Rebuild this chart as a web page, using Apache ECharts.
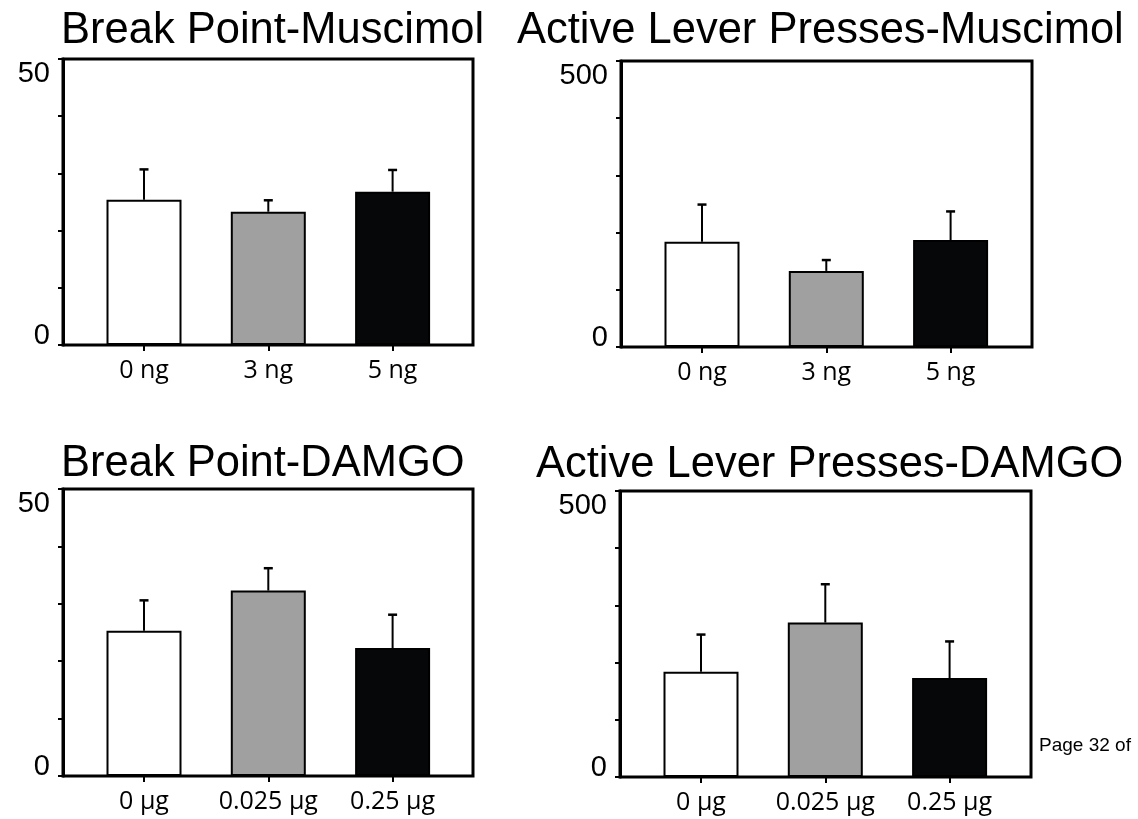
<!DOCTYPE html>
<html>
<head>
<meta charset="utf-8">
<script src="https://cdn.jsdelivr.net/npm/echarts@6/dist/echarts.min.js"></script>
<style>
  html, body { margin: 0; padding: 0; background: #fff; }
  #main { width: 1138px; height: 819px; }
</style>
</head>
<body>
<div id="main"></div>
<script>
// categories
var doseNg = ['0 ng', '3 ng', '5 ng'];
var doseUg = ['0 µg', '0.025 µg', '0.25 µg'];

// means and SEM
var bpMuscimol = [25.4, 23.3, 26.8];
var bpMuscimolSem = [5.3, 2.0, 3.8];
var alpMuscimol = [184, 133, 187];
var alpMuscimolSem = [65, 19, 50];
var bpDamgo = [25.3, 32.3, 22.3];
var bpDamgoSem = [5.3, 3.9, 5.8];
var alpDamgo = [184, 270, 173];
var alpDamgoSem = [65, 67, 64];

var titles = ['Break Point-Muscimol', 'Active Lever Presses-Muscimol', 'Break Point-DAMGO', 'Active Lever Presses-DAMGO'];
var barColors = ['#ffffff', '#a0a0a0', '#060708'];

var panels = [
  { box: [63, 59, 410, 286], title: [61, 9], cats: doseNg, vals: bpMuscimol, sem: bpMuscimolSem, max: 50 },
  { box: [621, 61, 411, 286], title: [517, 9], cats: doseNg, vals: alpMuscimol, sem: alpMuscimolSem, max: 500 },
  { box: [63, 489, 410, 287], title: [61, 442], cats: doseUg, vals: bpDamgo, sem: bpDamgoSem, max: 50 },
  { box: [620, 491, 411, 286], title: [536, 443], cats: doseUg, vals: alpDamgo, sem: alpDamgoSem, max: 500 }
];

var myChart = echarts.init(document.getElementById('main'));

var option = { animation: false, backgroundColor: '#fff', title: [], grid: [], xAxis: [], yAxis: [], series: [] };

function errorBar(params, api) {
  var base = api.coord([api.value(0), api.value(1)]);
  var top = api.coord([api.value(0), api.value(1) + api.value(2)]);
  return {
    type: 'group',
    children: [
      { type: 'line', shape: { x1: base[0], y1: base[1], x2: top[0], y2: top[1] }, style: { stroke: '#000', lineWidth: 2 } },
      { type: 'line', shape: { x1: top[0] - 4.5, y1: top[1], x2: top[0] + 4.5, y2: top[1] }, style: { stroke: '#000', lineWidth: 2.5 } }
    ]
  };
}

panels.forEach(function (p, i) {
  var b = p.box;
  var band = 124.3;
  var inLeft = b[0] + 81 - band / 2;

  option.title.push({
    text: titles[i], left: p.title[0], top: p.title[1], padding: 0,
    textStyle: { fontFamily: 'Liberation Sans', fontWeight: 'normal', fontSize: 43.5, color: '#000' }
  });

  // outer frame with the y axis
  option.grid.push({ left: b[0], top: b[1], width: b[2], height: b[3], show: true, borderColor: '#000', borderWidth: 3, backgroundColor: 'transparent' });
  option.xAxis.push({ gridIndex: i * 2, type: 'value', show: false });
  option.yAxis.push({
    gridIndex: i * 2, type: 'value', min: 0, max: p.max, interval: p.max / 5,
    axisLine: { show: true, lineStyle: { color: '#000', width: 3 } },
    axisTick: { show: true, length: 5, lineStyle: { color: '#000', width: 2 } },
    splitLine: { show: false },
    axisLabel: {
      color: '#000', fontFamily: 'Liberation Sans', fontSize: 29, lineHeight: 18, margin: 13,
      verticalAlignMaxLabel: 'top', verticalAlignMinLabel: 'bottom',
      rich: { top: { fontFamily: 'Liberation Sans', fontSize: 29, lineHeight: 29, color: '#000' } },
      formatter: function (v) {
        if (v === p.max) return '{top|' + v + '}';
        return v === 0 ? '0' : '';
      }
    }
  });

  // inner grid holding the bars
  option.grid.push({ left: inLeft, top: b[1], width: band * 3, height: b[3] });
  option.xAxis.push({
    gridIndex: i * 2 + 1, type: 'category', data: p.cats,
    axisLine: { show: false },
    axisTick: { show: true, alignWithLabel: true, length: 6, lineStyle: { color: '#000', width: 2 } },
    axisLabel: { color: '#000', fontFamily: 'Open Sans', fontSize: 25, margin: 13, interval: 0, hideOverlap: false }
  });
  option.yAxis.push({ gridIndex: i * 2 + 1, type: 'value', min: 0, max: p.max, show: false });

  option.series.push({
    type: 'bar', xAxisIndex: i * 2 + 1, yAxisIndex: i * 2 + 1, barWidth: 75,
    data: p.vals.map(function (v, k) {
      return { value: v, itemStyle: { color: barColors[k], borderColor: '#000', borderWidth: 2 } };
    }),
    z: 3
  });
  option.series.push({
    type: 'custom', xAxisIndex: i * 2 + 1, yAxisIndex: i * 2 + 1,
    renderItem: errorBar,
    data: p.vals.map(function (v, k) { return [k, v, p.sem[k]]; }),
    z: 2
  });
});

option.graphic = [{
  type: 'text', left: 1039, top: 736,
  style: { text: 'Page 32 of', fontFamily: 'Liberation Sans', fontSize: 19, fill: '#000' }
}];

myChart.setOption(option);
window.addEventListener('resize', function () { myChart.resize(); });
</script>
</body>
</html>
